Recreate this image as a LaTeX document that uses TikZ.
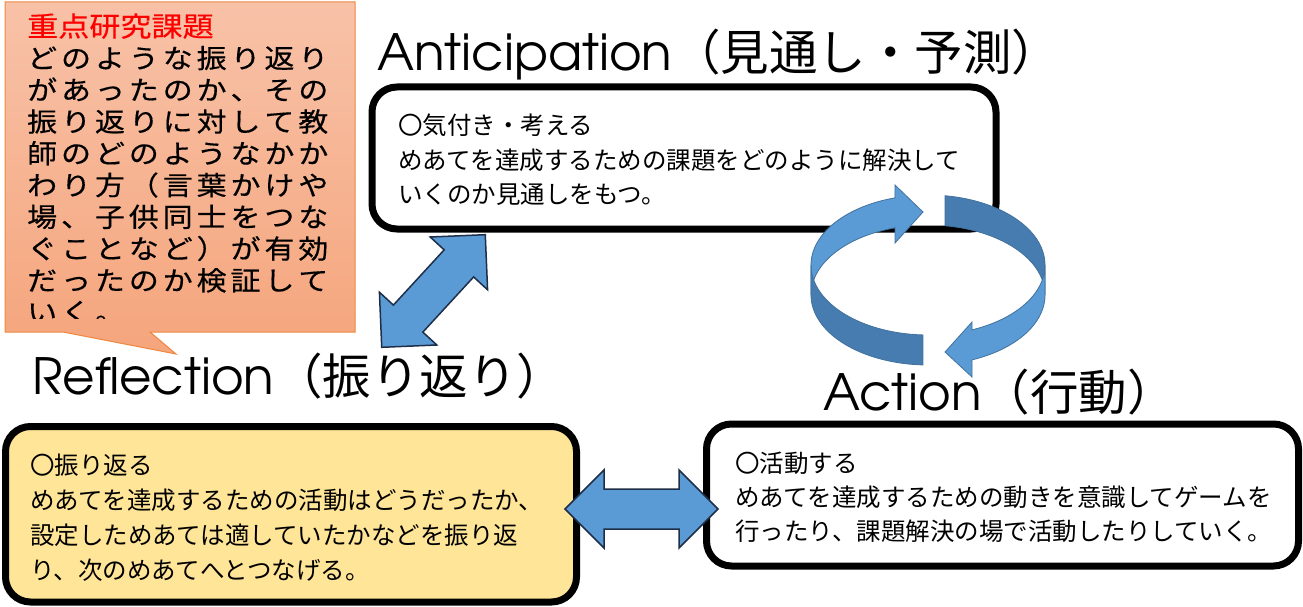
\documentclass[tikz,border=0pt]{standalone}
\usepackage{fontspec}
\newfontfamily\cjk{Noto Sans CJK JP}
\newfontfamily\cjkw[FakeStretch=1.13,FakeBold=0.4]{Noto Sans CJK JP}
\newfontfamily\ttl{TeX Gyre Adventor}
\definecolor{calltop}{HTML}{F8C2A8}
\definecolor{callbot}{HTML}{F5A57C}
\definecolor{callborder}{HTML}{EE8840}
\definecolor{reflfill}{HTML}{FFE597}
\definecolor{arrowblue}{HTML}{5B9BD5}
\definecolor{arrowedge}{HTML}{1E2E48}
\definecolor{ringdark}{HTML}{477CB0}
\definecolor{ringedge}{HTML}{41719C}
\definecolor{calltitle}{HTML}{FF0000}
\newlength\cw
\setlength\cw{33.9pt}
\def\spc#1{\spcaux#1\relax}
\def\spcaux#1{\ifx\relax#1\else\makebox[\cw][l]{#1}\expandafter\spcaux\fi}
\tikzset{
  box/.style={draw=black, line width=7pt, rounded corners=25pt, inner sep=0pt},
  bodytxt/.style={anchor=base west, inner sep=0pt, font=\cjk\fontsize{24.5}{24.5}\selectfont},
  calltxt/.style={anchor=base west, inner sep=0pt, font=\cjkw\fontsize{26.5}{26.5}\selectfont},
  titletxt/.style={anchor=base west, inner sep=0pt, font=\fontsize{50}{50}\selectfont},
  titlecjk/.style={font=\cjk\fontsize{48.5}{48.5}\selectfont},
  blk/.style={fill=arrowblue, draw=arrowedge, line width=1.5pt, line join=miter},
  ringlight/.style={fill=arrowblue, draw=ringedge, line width=0.8pt},
  ringdarkst/.style={fill=ringdark, draw=ringedge, line width=0.8pt},
  dbl/.pic={\path[blk] (-76.5,0) -- (-37.5,39) -- (-37.5,20) -- (37.5,20) -- (37.5,39) -- (76.5,0)
     -- (37.5,-39) -- (37.5,-20) -- (-37.5,-20) -- (-37.5,-39) -- cycle;}
}
\begin{document}
\begin{tikzpicture}[x=1pt,y=-1pt]
\useasboundingbox (0,0) rectangle (1303,607);
% callout
\path[top color=calltop, bottom color=callbot, draw=callborder, line width=1pt]
  (5,2) -- (355,2) -- (355,332) -- (150,332) -- (176,354) -- (63,332) -- (5,332) -- cycle;
\begin{scope}
\clip (5,2) rectangle (355,318);
\node[anchor=base west, inner sep=0pt, font=\cjkw\fontsize{27.5}{27.5}\selectfont, text=calltitle] (ct) at (27,36.5) {重点研究課題};
\node[calltxt] (c1) at (27,68.1) {\spc{どのような振り返り}};
\node[calltxt] (c2) at (27,99.85) {\spc{があったのか、その}};
\node[calltxt] (c3) at (27,131.6) {\spc{振り返りに対して教}};
\node[calltxt] (c4) at (27,163.35) {\spc{師のどのようなかか}};
\node[calltxt] (c5) at (27,195.1) {\spc{わり方（言葉かけや}};
\node[calltxt] (c6) at (27,226.85) {\spc{場、子供同士をつな}};
\node[calltxt] (c7) at (27,258.6) {\spc{ぐことなど）が有効}};
\node[calltxt] (c8) at (27,290.35) {\spc{だったのか検証して}};
\node[calltxt] (c9) at (27,322.1) {\spc{いく。}};
\end{scope}
% titles
\node[titletxt] (tant) at (377,71) {{\ttl Anticipation}{\tikzset{titlecjk}\cjk\fontsize{48.5}{48.5}\selectfont （見通し・予測）}};
\node[titletxt] (tref) at (32,394) {{\ttl Reflection}{\cjk\fontsize{48.5}{48.5}\selectfont （振り返り）}};
\node[titletxt] (tact) at (823,410) {{\ttl Action}{\cjk\fontsize{48.5}{48.5}\selectfont （行動）}};
% boxes
\node[box, fill=white, minimum width=624pt, minimum height=142pt] (ant) at (684,158) {};
\node[box, fill=reflfill, minimum width=571pt, minimum height=175.5pt] (ref) at (291,514.25) {};
\node[box, fill=white, minimum width=592pt, minimum height=142pt] (act) at (1002.5,495) {};
% box texts
\node[bodytxt] (a1) at (398,134.5) {〇気付き・考える};
\node[bodytxt] (a2) at (398,169.5) {めあてを達成するための課題をどのように解決して};
\node[bodytxt] (a3) at (398,203.5) {いくのか見通しをもつ。};
\node[bodytxt] (r1) at (30,474.5) {〇振り返る};
\node[bodytxt] (r2) at (30,509.5) {めあてを達成するための活動はどうだったか、};
\node[bodytxt] (r3) at (30,544.5) {設定しためあては適していたかなどを振り返};
\node[bodytxt] (r4) at (30,579.5) {り、次のめあてへとつなげる。};
\node[bodytxt] (x1) at (735,472.5) {〇活動する};
\node[bodytxt] (x2) at (735,506.5) {めあてを達成するための動きを意識してゲームを};
\node[bodytxt] (x3) at (735,540.5) {行ったり、課題解決の場で活動したりしていく。};
% block double arrows
\pic at (641.5,509) {dbl};
\pic[rotate=47.4] at (433.5,291) {dbl};
% cycle ring arrows
\path[ringlight] plot[domain=180:106.4, samples=40] ({928+117*cos(\x)},{265-70*sin(\x)})
  -- (895,185) -- (923,212) -- (895,243) -- (895,227.8)
  -- plot[domain=106.4:180, samples=40] ({928+117*cos(\x)},{295-70*sin(\x)}) -- cycle;
\path[ringdarkst] plot[domain=180:267.5, samples=40] ({928+117*cos(\x)},{265-70*sin(\x)})
  -- plot[domain=267.5:180, samples=40] ({928+117*cos(\x)},{295-70*sin(\x)}) -- cycle;
\path[ringdarkst] plot[domain=81.6:0, samples=40] ({928+117*cos(\x)},{265-70*sin(\x)})
  -- plot[domain=0:81.6, samples=40] ({928+117*cos(\x)},{295-70*sin(\x)}) -- cycle;
\path[ringlight] plot[domain=360:292.1, samples=40] ({928+117*cos(\x)},{265-70*sin(\x)})
  -- (972,322) -- (945,352) -- (972,377) -- (972,360)
  -- plot[domain=292.1:360, samples=40] ({928+117*cos(\x)},{295-70*sin(\x)}) -- cycle;
\end{tikzpicture}
\end{document}
